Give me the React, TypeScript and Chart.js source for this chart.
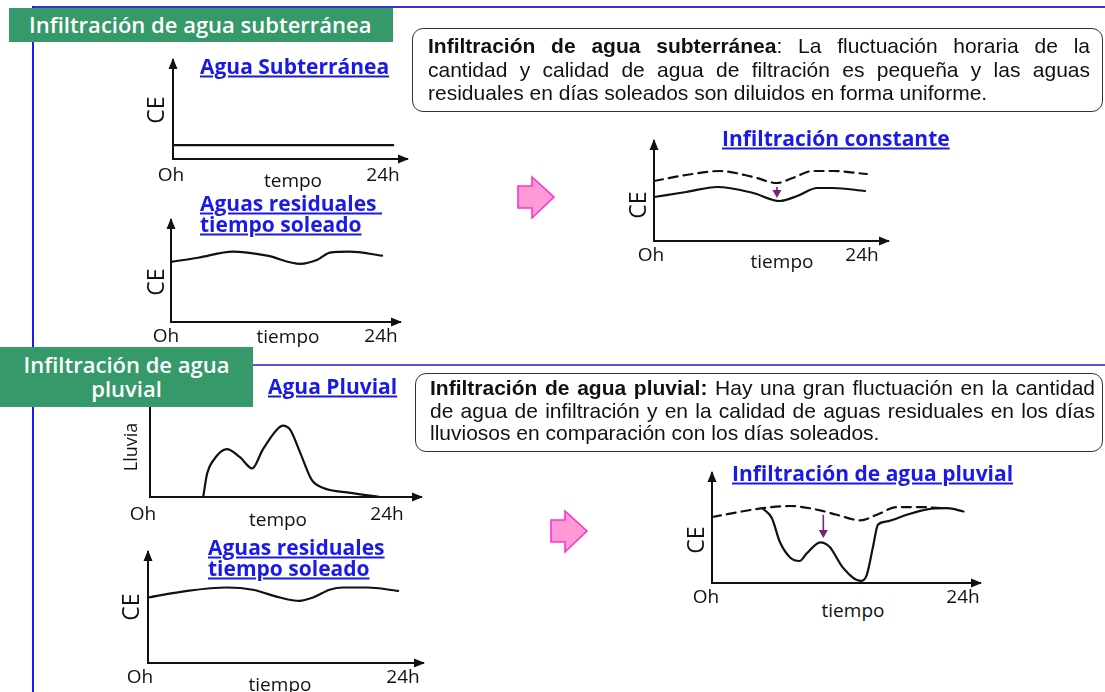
import React, { useEffect, useRef } from "react";
import { Chart, registerables } from "chart.js";

Chart.register(...registerables);

// ---------------- data (hours 0-24, CE / rain in relative units 0-10) ----------------
const groundHours = [0, 24];
const groundCE = [1.4, 1.4];

const sunnyTopHours = [0, 3, 6.9, 10.7, 14.4, 16.3, 17.7, 19.9, 23.5];
const sunnyTopCE = [5.9, 6.3, 6.9, 6.5, 5.7, 6.1, 6.8, 6.9, 6.5];

const constDashedHours = [0, 3.5, 7.2, 10.8, 13.4, 15.1, 17.3, 19.5, 23.2];
const constDashedCE = [6.0, 6.6, 7.0, 6.4, 5.8, 6.3, 7.0, 7.0, 6.7];
const constSolidHours = [0, 3.5, 6.9, 10.8, 13.7, 15.6, 17.8, 19.5, 23.0];
const constSolidCE = [4.4, 4.9, 5.4, 4.8, 4.0, 4.5, 5.3, 5.3, 5.0];
const constDrop = { x: 13.4, from: 5.4, to: 4.3 };

const rainHours = [5.2, 5.6, 6.2, 7.5, 8.8, 10.0, 11.0, 12.4, 13.0, 13.7, 14.7, 15.8, 16.9, 19.6, 22.5];
const rainValues = [0, 2.35, 3.6, 4.7, 3.9, 2.8, 4.6, 6.6, 7.0, 6.6, 4.3, 1.7, 0.9, 0.4, 0];

const sunnyBottomHours = [0, 3.8, 7.6, 10.1, 12.7, 14.6, 15.9, 17.5, 18.8, 21.1, 24.1];
const sunnyBottomCE = [5.9, 6.5, 6.8, 6.6, 5.9, 5.6, 5.9, 6.6, 6.8, 6.8, 6.5];

const rainInfDashedHours = [0, 4.9, 7.6, 10.5, 12.1, 14.4, 16.0, 17.9, 20.2, 22.6];
const rainInfDashedCE = [6.0, 6.8, 7.0, 6.6, 6.2, 5.7, 6.2, 6.9, 6.9, 6.8];
const rainInfSolidHours = [4.9, 5.8, 6.6, 7.6, 8.5, 9.2, 10.5, 11.4, 12.7, 14.4, 15.0, 15.6, 16.1, 17.0, 18.9, 20.9, 22.8, 24.4];
const rainInfSolidCE = [6.8, 5.9, 3.7, 2.3, 2.0, 2.7, 3.7, 3.3, 1.4, 0.2, 0.7, 3.2, 5.3, 5.6, 6.2, 6.7, 6.8, 6.5];
const rainInfDrop = { x: 10.8, from: 6.2, to: 4.1 };

const tickStart = "Oh";
const tickEnd = "24h";

// ---------------- fonts / colors ----------------
const CAL = "'Open Sans', 'DejaVu Sans', sans-serif";
const ARIAL = "'Liberation Sans', Arial, sans-serif";
const INK = "#111111";
const TITLE_BLUE = "#1a1ae6";
const GREEN = "#35996a";

// ---------------- plugins ----------------
const axisArrows = {
  id: "axisArrows",
  afterDraw(chart: any) {
    const { ctx, chartArea } = chart;
    const { left, top, right, bottom } = chartArea;
    ctx.save();
    ctx.fillStyle = INK;
    ctx.beginPath();
    ctx.moveTo(left, top - 2);
    ctx.lineTo(left - 4.5, top + 9);
    ctx.lineTo(left + 4.5, top + 9);
    ctx.closePath();
    ctx.fill();
    ctx.beginPath();
    ctx.moveTo(right + 2, bottom);
    ctx.lineTo(right - 9, bottom - 4.5);
    ctx.lineTo(right - 9, bottom + 4.5);
    ctx.closePath();
    ctx.fill();
    ctx.restore();
  },
};

const dropArrow = {
  id: "dropArrow",
  afterDatasetsDraw(chart: any, _args: any, opts: any) {
    if (!opts || opts.x === undefined) return;
    const xs = chart.scales.x;
    const ys = chart.scales.y;
    const px = xs.getPixelForValue(opts.x);
    const y1 = ys.getPixelForValue(opts.from);
    const y2 = ys.getPixelForValue(opts.to);
    const ctx = chart.ctx;
    ctx.save();
    ctx.strokeStyle = "#7a1f7a";
    ctx.fillStyle = "#7a1f7a";
    ctx.lineWidth = 1.6;
    ctx.beginPath();
    ctx.moveTo(px, y1);
    ctx.lineTo(px, y2 - 6);
    ctx.stroke();
    ctx.beginPath();
    ctx.moveTo(px, y2);
    ctx.lineTo(px - 4.5, y2 - 8);
    ctx.lineTo(px + 4.5, y2 - 8);
    ctx.closePath();
    ctx.fill();
    ctx.restore();
  },
};

type Series = { xs: number[]; ys: number[]; dashed?: boolean };

function MiniChart(props: {
  left: number;
  top: number;
  right: number;
  bottom: number;
  xMax: number;
  series: Series[];
  drop?: { x: number; from: number; to: number };
}) {
  const ref = useRef<HTMLCanvasElement>(null);
  const pad = 10;
  const w = props.right - props.left;
  const h = props.bottom - props.top;
  useEffect(() => {
    const chart = new Chart(ref.current as HTMLCanvasElement, {
      type: "line",
      data: {
        datasets: props.series.map((s) => ({
          data: s.xs.map((x, i) => ({ x, y: s.ys[i] })),
          borderColor: INK,
          borderWidth: 2.2,
          borderDash: s.dashed ? [9, 6] : [],
          pointRadius: 0,
          cubicInterpolationMode: "monotone",
          fill: false,
          borderCapStyle: "round",
          borderJoinStyle: "round",
        })),
      },
      options: {
        responsive: false,
        animation: false,
        devicePixelRatio: 1,
        events: [],
        layout: { padding: pad },
        plugins: {
          legend: { display: false },
          tooltip: { enabled: false },
          title: { display: false },
          dropArrow: props.drop ? { ...props.drop } : {},
        } as any,
        scales: {
          x: {
            type: "linear",
            min: 0,
            max: props.xMax,
            grid: { display: false, drawTicks: false, tickLength: 0 },
            ticks: { display: false },
            border: { display: true, color: INK, width: 2 },
            afterFit: (s: any) => {
              s.height = 0;
            },
          },
          y: {
            type: "linear",
            min: 0,
            max: 10,
            grid: { display: false, drawTicks: false, tickLength: 0 },
            ticks: { display: false },
            border: { display: true, color: INK, width: 2 },
            afterFit: (s: any) => {
              s.width = 0;
            },
          },
        },
      } as any,
      plugins: [axisArrows, dropArrow],
    });
    return () => chart.destroy();
  }, []);
  return (
    <canvas
      ref={ref}
      width={w + 2 * pad}
      height={h + 2 * pad}
      style={{ position: "absolute", left: props.left - pad, top: props.top - pad, zIndex: 1 }}
    />
  );
}

function Txt(props: {
  x: number;
  y: number;
  text: string;
  size?: number;
  rotate?: boolean;
  color?: string;
  weight?: number;
}) {
  return (
    <div
      style={{
        position: "absolute",
        left: props.x,
        top: props.y,
        transform: `translate(-50%, -50%)${props.rotate ? " rotate(-90deg)" : ""}`,
        fontFamily: CAL,
        fontSize: props.size ?? 19,
        fontWeight: props.weight ?? 400,
        color: props.color ?? INK,
        whiteSpace: "nowrap",
        lineHeight: 1,
        zIndex: 3,
      }}
    >
      {props.text}
    </div>
  );
}

function ChartTitle(props: { x: number; y: number; text: string; size?: number }) {
  return (
    <div
      style={{
        position: "absolute",
        left: props.x,
        top: props.y,
        transform: "translateY(-50%)",
        fontFamily: CAL,
        fontSize: props.size ?? 21,
        fontWeight: 700,
        color: TITLE_BLUE,
        textDecoration: "underline",
        textDecorationThickness: "1.5px",
        textUnderlineOffset: "2px",
        whiteSpace: "pre",
        lineHeight: 1,
        zIndex: 3,
      }}
    >
      {props.text}
    </div>
  );
}

function BoxLine(props: { x: number; y: number; width: number; justify: boolean; lh: number; children: any }) {
  return (
    <div
      style={{
        position: "absolute",
        left: props.x,
        top: props.y,
        width: props.width,
        fontFamily: ARIAL,
        fontSize: 21,
        lineHeight: props.lh + "px",
        color: INK,
        textAlign: props.justify ? "justify" : "left",
        textAlignLast: props.justify ? "justify" : "left",
        zIndex: 3,
      } as any}
    >
      {props.children}
    </div>
  );
}

function PinkArrow(props: { x: number; y: number }) {
  return (
    <svg
      width={42}
      height={47}
      style={{ position: "absolute", left: props.x, top: props.y, zIndex: 3 }}
    >
      <polygon
        points="3,12 17,12 17,3 39,23 17,44 17,34 3,34"
        fill="#ff9ad6"
        stroke="#ff33cc"
        strokeWidth={1.6}
      />
    </svg>
  );
}

export default function App() {
  return (
    <div
      style={{
        position: "fixed",
        left: 0,
        top: 0,
        width: 1105,
        height: 692,
        background: "#ffffff",
        overflow: "hidden",
      }}
    >
      {/* frame lines */}
      <div style={{ position: "absolute", left: 33, top: 6, width: 1072, height: 2, background: "#3535c8" }} />
      <div style={{ position: "absolute", left: 32, top: 6, width: 2, height: 686, background: "#1c1cf0" }} />
      <div style={{ position: "absolute", left: 33, top: 364, width: 1072, height: 2, background: "#5a5ad0" }} />

      {/* section headers */}
      <div
        style={{
          position: "absolute",
          left: 9,
          top: 8,
          width: 384,
          height: 34,
          background: GREEN,
          zIndex: 4,
          color: "#fff",
          fontFamily: CAL,
          fontWeight: 600,
          fontSize: 22,
          lineHeight: "33px",
          paddingLeft: 20,
          boxSizing: "border-box",
          whiteSpace: "nowrap",
        }}
      >
        Infiltración de agua subterránea
      </div>
      <div
        style={{
          position: "absolute",
          left: 0,
          top: 347,
          width: 253,
          height: 60,
          background: GREEN,
          zIndex: 4,
          color: "#fff",
          fontFamily: CAL,
          fontWeight: 600,
          fontSize: 22,
          lineHeight: "24px",
          textAlign: "center",
          paddingTop: 5,
          boxSizing: "border-box",
        }}
      >
        Infiltración de agua
        <br />
        pluvial
      </div>

      {/* description boxes */}
      <div
        style={{
          position: "absolute",
          left: 412,
          top: 28,
          width: 691,
          height: 84,
          border: "1.5px solid #333",
          borderRadius: 11,
          boxSizing: "border-box",
          zIndex: 2,
        }}
      />
      <BoxLine x={428} y={34} width={662} justify={true} lh={23.5}>
        <b>Infiltración de agua subterránea</b>: La fluctuación horaria de la
      </BoxLine>
      <BoxLine x={428} y={57.5} width={662} justify={true} lh={23.5}>
        cantidad y calidad de agua de filtración es pequeña y las aguas
      </BoxLine>
      <BoxLine x={428} y={81} width={662} justify={false} lh={23.5}>
        residuales en días soleados son diluidos en forma uniforme.
      </BoxLine>

      <div
        style={{
          position: "absolute",
          left: 415,
          top: 373,
          width: 688,
          height: 79,
          border: "1.5px solid #333",
          borderRadius: 11,
          boxSizing: "border-box",
          zIndex: 2,
        }}
      />
      <BoxLine x={430} y={377} width={665} justify={true} lh={22.5}>
        <b>Infiltración de agua pluvial:</b> Hay una gran fluctuación en la cantidad
      </BoxLine>
      <BoxLine x={430} y={399.5} width={665} justify={true} lh={22.5}>
        de agua de infiltración y en la calidad de aguas residuales en los días
      </BoxLine>
      <BoxLine x={430} y={422} width={665} justify={false} lh={22.5}>
        lluviosos en comparación con los días soleados.
      </BoxLine>

      {/* Chart A: Agua Subterránea */}
      <MiniChart left={173} top={60} right={407} bottom={159} xMax={25.5} series={[{ xs: groundHours, ys: groundCE }]} />
      <ChartTitle x={200} y={66} text="Agua Subterránea" />
      <Txt x={155} y={110} text="CE" size={23} rotate />
      <Txt x={171} y={174} text={tickStart} />
      <Txt x={293} y={180} text="tempo" />
      <Txt x={383} y={174} text={tickEnd} />

      {/* Chart B: Aguas residuales tiempo soleado (top) */}
      <MiniChart left={171} top={220} right={400} bottom={322} xMax={25.5} series={[{ xs: sunnyTopHours, ys: sunnyTopCE }]} />
      <ChartTitle x={200} y={203} text={"Aguas residuales\u00a0"} />
      <ChartTitle x={200} y={224} text="tiempo soleado" />
      <Txt x={155} y={282} text="CE" size={23} rotate />
      <Txt x={166} y={335} text={tickStart} />
      <Txt x={288} y={336} text="tiempo" />
      <Txt x={381} y={335} text={tickEnd} />

      {/* Chart D: Infiltración constante */}
      <MiniChart
        left={654}
        top={141}
        right={888}
        bottom={241}
        xMax={25.5}
        series={[
          { xs: constDashedHours, ys: constDashedCE, dashed: true },
          { xs: constSolidHours, ys: constSolidCE },
        ]}
        drop={constDrop}
      />
      <ChartTitle x={722} y={138} text="Infiltración constante" />
      <Txt x={637} y={205} text="CE" size={23} rotate />
      <Txt x={651} y={254} text={tickStart} />
      <Txt x={782} y={261} text="tiempo" />
      <Txt x={862} y={254} text={tickEnd} />
      <PinkArrow x={515} y={174} />

      {/* Chart G: Agua Pluvial */}
      <MiniChart left={150} top={395} right={421} bottom={497} xMax={26.5} series={[{ xs: rainHours, ys: rainValues }]} />
      <ChartTitle x={268} y={386} text="Agua Pluvial" />
      <Txt x={130} y={447} text="Lluvia" size={18} rotate />
      <Txt x={143} y={513} text={tickStart} />
      <Txt x={278} y={519} text="tempo" />
      <Txt x={387} y={513} text={tickEnd} />

      {/* Chart I: Aguas residuales tiempo soleado (bottom) */}
      <MiniChart left={148} top={552} right={423} bottom={663} xMax={26.5} series={[{ xs: sunnyBottomHours, ys: sunnyBottomCE }]} />
      <ChartTitle x={208} y={547} text={"Aguas residuales"} />
      <ChartTitle x={208} y={568} text="tiempo soleado" />
      <Txt x={130} y={607} text="CE" size={23} rotate />
      <Txt x={140} y={676} text={tickStart} />
      <Txt x={280} y={684} text="tiempo" />
      <Txt x={403} y={676} text={tickEnd} />

      {/* Chart J: Infiltración de agua pluvial */}
      <MiniChart
        left={712}
        top={473}
        right={980}
        bottom={583}
        xMax={26}
        series={[
          { xs: rainInfDashedHours, ys: rainInfDashedCE, dashed: true },
          { xs: rainInfSolidHours, ys: rainInfSolidCE },
        ]}
        drop={rainInfDrop}
      />
      <ChartTitle x={732} y={473} text="Infiltración de agua pluvial" />
      <Txt x={695} y={540} text="CE" size={23} rotate />
      <Txt x={706} y={596} text={tickStart} />
      <Txt x={853} y={610} text="tiempo" />
      <Txt x={963} y={596} text={tickEnd} />
      <PinkArrow x={548} y={508} />
    </div>
  );
}
